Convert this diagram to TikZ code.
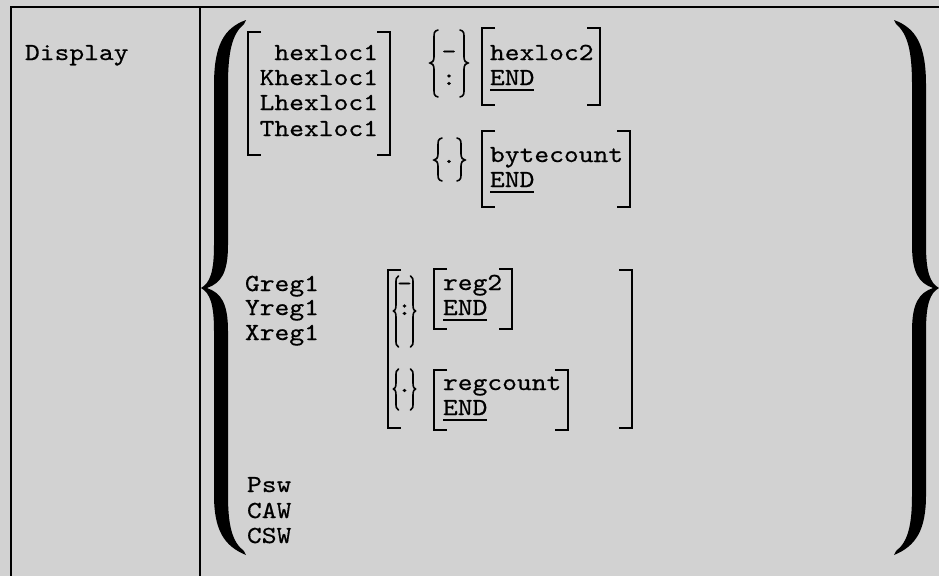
\documentclass[tikz,border=0pt]{standalone}
\usepackage{fontspec}
\newfontfamily\cfont{lmmono10-regular.otf}[FakeStretch=1.15,FakeBold=0.5]
\definecolor{bgpaper}{RGB}{210,210,210}
\tikzset{
  txt/.style={inner sep=0pt, outer sep=0pt, font=\cfont\fontsize{24.5}{25}\selectfont, anchor=base west},
  txtr/.style={txt, anchor=base east},
  txtc/.style={txt, anchor=base},
  brk/.style={line width=2.8pt, line cap=butt, line join=miter},
  sbr/.style={line width=1.6pt, line cap=round},
  frameline/.style={line width=2pt},
  bigbrace/.style={fill=black, draw=none},
}
\newcommand\ulEND{\rlap{\rule[-6pt]{44.4pt}{1.8pt}}END}
\newcommand\lbrk[3]{\draw[brk] (#1+13,#2) -- (#1,#2) -- (#1,#3) -- (#1+13,#3);}
\newcommand\rbrk[3]{\draw[brk] (#1-13,#2) -- (#1,#2) -- (#1,#3) -- (#1-13,#3);}
% x, top, mid, bottom, tip size
\newcommand\sLbrace[5]{\draw[sbr] (#1+#5,#2) .. controls (#1,#2+1) and (#1,#2+3) .. (#1,#2+8) -- (#1,#3-6) .. controls (#1,#3-2) and (#1-#5/2,#3) .. (#1-#5,#3) .. controls (#1-#5/2,#3) and (#1,#3+2) .. (#1,#3+6) -- (#1,#4-8) .. controls (#1,#4-3) and (#1,#4-1) .. (#1+#5,#4);}
\newcommand\sRbrace[5]{\draw[sbr] (#1-#5,#2) .. controls (#1,#2+1) and (#1,#2+3) .. (#1,#2+8) -- (#1,#3-6) .. controls (#1,#3-2) and (#1+#5/2,#3) .. (#1+#5,#3) .. controls (#1+#5/2,#3) and (#1,#3+2) .. (#1,#3+6) -- (#1,#4-8) .. controls (#1,#4-3) and (#1,#4-1) .. (#1-#5,#4);}
\newcommand\drawbigbrace{\fill[bigbrace] (246,20) .. controls (224,28) and (214,45) .. (214,85) -- (214,245) .. controls (214,272) and (210,283) .. (201,288) .. controls (210,293) and (214,304) .. (214,331) -- (214,495) .. controls (214,530) and (224,546) .. (246,555) -- (244,551) .. controls (232,542) and (228,525) .. (228,495) -- (228,331) .. controls (228,303) and (221,293) .. (207,288) .. controls (221,283) and (228,273) .. (228,245) -- (228,85) .. controls (228,52) and (232,34) .. (244,24) -- cycle;}
\begin{document}
\begin{tikzpicture}[x=1pt, y=-1pt]
\useasboundingbox (0,0) rectangle (939,576);
\fill[bgpaper] (0,0) rectangle (939,576);
% frame
\draw[frameline] (939,7) -- (11,7) -- (11,576);
\draw[frameline] (200,7) -- (200,576);
% big braces
\drawbigbrace
\begin{scope}[shift={(1140,0)}, xscale=-1]
\drawbigbrace
\end{scope}
% left label
\node[txt] (display) at (25,60) {Display};
% hexloc group
\node[txtr] (h1) at (378,60) {hexloc1};
\node[txtr] (h2) at (378,85) {Khexloc1};
\node[txtr] (h3) at (378,110) {Lhexloc1};
\node[txtr] (h4) at (378,136) {Thexloc1};
\lbrk{248}{32}{155}
\rbrk{390}{32}{155}
% separator - :
\sLbrace{434}{30}{63}{97}{4}
\sRbrace{464}{30}{63}{97}{4}
\node[txtc] (dash1) at (449,59) {-};
\node[txtc] (colon1) at (449,85) {:};
% hexloc2
\lbrk{482}{28}{105}
\rbrk{600}{28}{105}
\node[txt] (hx2) at (490,60) {hexloc2};
\node[txt] (end1) at (490,85) {\ulEND};
% separator .
\sLbrace{438}{138}{160}{181}{4}
\sRbrace{461}{138}{160}{181}{4}
\node[txtc] (dot1) at (449,163) {.};
% bytecount
\lbrk{482}{131}{207}
\rbrk{630}{131}{207}
\node[txt] (byc) at (490,162) {bytecount};
\node[txt] (end2) at (490,187) {\ulEND};
% registers
\node[txt] (g1) at (245,291) {Greg1};
\node[txt] (y1) at (245,315) {Yreg1};
\node[txt] (x1) at (245,340) {Xreg1};
\lbrk{388}{270}{428}
\rbrk{632}{270}{428}
\sLbrace{396}{276}{311}{347}{2.5}
\sRbrace{413}{276}{311}{347}{2.5}
\node[txtc] (dash2) at (404.5,291) {-};
\node[txtc] (colon2) at (404.5,315) {:};
\sLbrace{396}{369}{389}{410}{2.5}
\sRbrace{413}{369}{389}{410}{2.5}
\node[txtc] (dot2) at (404.5,392) {.};
\lbrk{434}{269}{329}
\rbrk{512}{269}{329}
\node[txt] (r2) at (443,290) {reg2};
\node[txt] (end3) at (443,315) {\ulEND};
\lbrk{434}{370}{430}
\rbrk{568}{370}{430}
\node[txt] (rc) at (443,390) {regcount};
\node[txt] (end4) at (443,415) {\ulEND};
% psw
\node[txt] (psw) at (247,492) {Psw};
\node[txt] (caw) at (247,518) {CAW};
\node[txt] (csw) at (247,543) {CSW};
\end{tikzpicture}
\end{document}
